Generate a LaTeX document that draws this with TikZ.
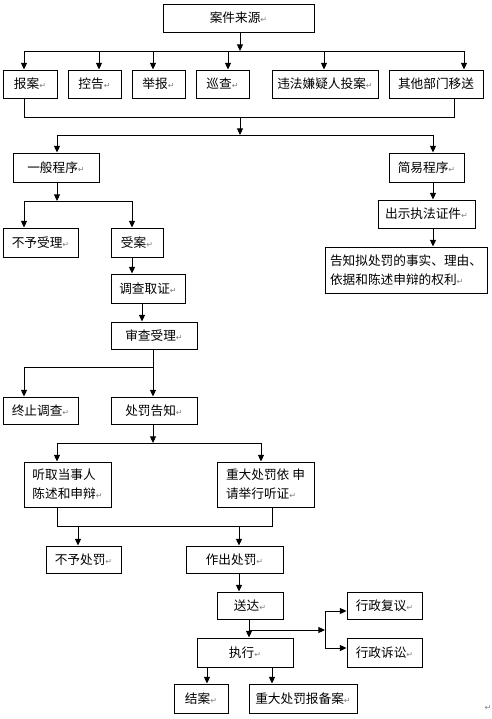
\documentclass[tikz,border=0pt]{standalone}
\usepackage{fontspec}
\setmainfont{Noto Sans CJK SC}
\newfontfamily\markfont{DejaVu Sans}
\usetikzlibrary{arrows.meta,positioning}

\newcommand{\retmark}{{\markfont\color{gray}\fontsize{6}{6}\selectfont ↵}}

\tikzset{
  box/.style={draw, line width=0.7pt, inner sep=0pt, font=\fontsize{9.5}{14}\selectfont},
  sz/.style 2 args={minimum width=#1*0.75pt, minimum height=#2*0.75pt},
  arr/.style={-{Triangle[length=5pt,width=4.5pt]}, line width=0.7pt},
  ln/.style={line width=0.7pt},
}

\begin{document}
\begin{tikzpicture}[x=0.75pt, y=-0.75pt]
  \useasboundingbox (0,0) rectangle (492,719);
  % sources
  \node[box, sz={151}{28}] (src) at (238.5,18) {案件来源\retmark};
  \node[box, sz={54}{28}] (baoan) at (30,84) {报案\retmark};
  \node[box, sz={53}{28}] (konggao) at (94.5,84) {控告\retmark};
  \node[box, sz={53}{28}] (jubao) at (158.5,84) {举报\retmark};
  \node[box, sz={53}{28}] (xuncha) at (222.5,84) {巡查\retmark};
  \node[box, sz={106}{28}] (touan) at (325,84) {违法嫌疑人投案\retmark};
  \node[box, sz={94}{28}] (yisong) at (436,84) {其他部门移送};
  % two procedures
  \node[box, sz={86}{29}] (yiban) at (56,167.5) {一般程序\retmark};
  \node[box, sz={75}{29}] (jianyi) at (426.5,167.5) {简易程序\retmark};
  % general procedure
  \node[box, sz={75}{29}] (buyu) at (40.5,242.5) {不予受理\retmark};
  \node[box, sz={52}{29}] (shouan) at (137,242.5) {受案\retmark};
  \node[box, sz={74}{29}] (diaocha) at (148,288.5) {调查取证\retmark};
  \node[box, sz={86}{27}] (shencha) at (154,335.5) {审查受理\retmark};
  \node[box, sz={75}{27}] (zhongzhi) at (40.5,410.5) {终止调查\retmark};
  \node[box, sz={86}{27}] (gaozhi) at (154,410.5) {处罚告知\retmark};
  \node[box, sz={87}{45}, align=left] (tingqu) at (67.5,484.5) {听取当事人\\陈述和申辩\retmark};
  \node[box, sz={97}{45}, align=left] (tingzheng) at (265.5,484.5) {重大处罚依 申\\请举行听证\retmark};
  \node[box, sz={75}{27}] (buchufa) at (83.5,559.5) {不予处罚\retmark};
  \node[box, sz={97}{27}] (zuochu) at (234.5,559.5) {作出处罚\retmark};
  \node[box, sz={66}{27}] (songda) at (250,605.5) {送达\retmark};
  \node[box, sz={75}{27}] (fuyi) at (384.5,605.5) {行政复议\retmark};
  \node[box, sz={75}{29}] (susong) at (384.5,652.5) {行政诉讼\retmark};
  \node[box, sz={96}{29}] (zhixing) at (245,652.5) {执行\retmark};
  \node[box, sz={54}{29}] (jiean) at (201,698.5) {结案\retmark};
  \node[box, sz={108}{29}] (beian) at (303,698.5) {重大处罚报备案\retmark};
  % simple procedure
  \node[box, sz={97}{28}] (chushi) at (426.5,214) {出示执法证件\retmark};
  \node[box, sz={162}{46}, align=left] (quanli) at (406,270) {告知拟处罚的事实、理由、\\依据和陈述申辩的权利\retmark};
  \node[font=\fontsize{5}{5}\selectfont] (endmark) at (488,708) {\retmark};

  % sources fan out
  \coordinate (j1) at (240,51);
  \draw[arr] (src.south -| j1) -- (j1);
  \draw[ln] (24,51) -- (464,51);
  \foreach \n/\x in {baoan/24, konggao/99, jubao/153, xuncha/228, touan/324, yisong/464}
    \draw[arr] (\x,51) -- (\x,51 |- \n.north);
  % sources join
  \coordinate (j2) at (240,117);
  \coordinate (j3) at (240,135);
  \draw[ln] (24,0 |- baoan.south) -- (24,117) -- (454,117) -- (454,0 |- yisong.south);
  \draw[arr] (j2) -- (j3);
  \draw[ln] (57,135) -- (433,135);
  \draw[arr] (57,135) -- (57,0 |- yiban.north);
  \draw[arr] (433,135) -- (433,0 |- jianyi.north);
  % general procedure
  \draw[arr] (57,0 |- yiban.south) -- (57,201);
  \draw[ln] (24,201) -- (132,201);
  \draw[arr] (24,201) -- (24,0 |- buyu.north);
  \draw[arr] (132,201) -- (132,0 |- shouan.north);
  \draw[arr] (132,0 |- shouan.south) -- (132,0 |- diaocha.north);
  \draw[arr] (142,0 |- diaocha.south) -- (142,0 |- shencha.north);
  \draw[arr] (153,0 |- shencha.south) -- (153,0 |- gaozhi.north);
  \draw[arr] (153,367) -- (24,367) -- (24,0 |- zhongzhi.north);
  \draw[arr] (153,0 |- gaozhi.south) -- (153,443);
  \draw[ln] (57,443) -- (261,443);
  \draw[arr] (57,443) -- (57,0 |- tingqu.north);
  \draw[arr] (261,443) -- (261,0 |- tingzheng.north);
  \draw[ln] (57,0 |- tingqu.south) -- (57,526) -- (272,526) -- (272,0 |- tingzheng.south);
  \draw[arr] (78,526) -- (78,0 |- buchufa.north);
  \draw[arr] (239,526) -- (239,0 |- zuochu.north);
  \draw[arr] (239,0 |- zuochu.south) -- (239,0 |- songda.north);
  \draw[arr] (249,0 |- songda.south) -- (249,0 |- zhixing.north);
  \draw[arr] (249,630) -- (325,630);
  \draw[ln] (325,611) -- (325,648);
  \draw[arr] (325,611) -- (fuyi.west |- 325,611);
  \draw[arr] (325,648) -- (susong.west |- 325,648);
  \draw[arr] (207,0 |- zhixing.south) -- (207,0 |- jiean.north);
  \draw[arr] (272,0 |- zhixing.south) -- (272,0 |- beian.north);
  % simple procedure
  \draw[arr] (433,0 |- jianyi.south) -- (433,0 |- chushi.north);
  \draw[arr] (433,0 |- chushi.south) -- (433,0 |- quanli.north);
\end{tikzpicture}
\end{document}
